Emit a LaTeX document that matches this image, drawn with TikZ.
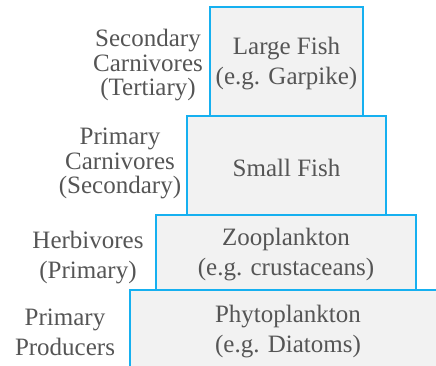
\documentclass[tikz,border=0pt]{standalone}
\usepackage{fontspec}
\setmainfont{Liberation Serif}
\usepackage{xcolor}
\usetikzlibrary{positioning}
\definecolor{tierblue}{RGB}{22,176,240}
\definecolor{tierfill}{RGB}{242,242,242}
\definecolor{tiertext}{RGB}{85,85,85}

\begin{document}
\begin{tikzpicture}[x=1pt,y=-1pt,
 tier/.style={draw=tierblue,line width=1.8pt,fill=tierfill,inner sep=0pt},
 tierlabel/.style={text=tiertext,align=center,inner sep=0pt,
  font=\fontsize{25}{30}\selectfont},
 level/.style={text=tiertext,align=center,inner sep=0pt}]
\useasboundingbox (0,0) rectangle (436,365);
\node[tier,minimum width=316pt,minimum height=80pt] (phyto) at (288,330) {};
\node[tier,minimum width=260pt,minimum height=75pt] (zoo) at (286,252.5) {};
\node[tier,minimum width=199pt,minimum height=99pt] (small) at (286.5,165.5) {};
\node[tier,minimum width=153pt,minimum height=109pt] (large) at (286.5,61.5) {};
\node[tierlabel] (phytotext) at ([yshift=-2pt]phyto.center) {Phytoplankton\\(e.g. Diatoms)};
\node[tierlabel] (zootext) at ([yshift=-2.5pt]zoo.center) {Zooplankton\\(e.g. crustaceans)};
\node[tierlabel] (smalltext) at ([yshift=-2.5pt]small.center) {Small Fish};
\node[tierlabel] (largetext) at ([yshift=-2.5pt]large.center) {Large Fish\\(e.g. Garpike)};
% trophic levels
\node[level,font=\fontsize{25}{24.5}\selectfont] (tertiary) at (148,65.5)
 {Secondary\\Carnivores\\(Tertiary)};
\node[level,font=\fontsize{25}{24.5}\selectfont] (secondary) at (120,163.5)
 {Primary\\Carnivores\\(Secondary)};
\node[level,font=\fontsize{25}{30}\selectfont] (primary) at (88,257.5)
 {Herbivores\\(Primary)};
\node[level,font=\fontsize{25}{30}\selectfont] (producers) at (65,332)
 {Primary\\Producers};
\end{tikzpicture}
\end{document}
